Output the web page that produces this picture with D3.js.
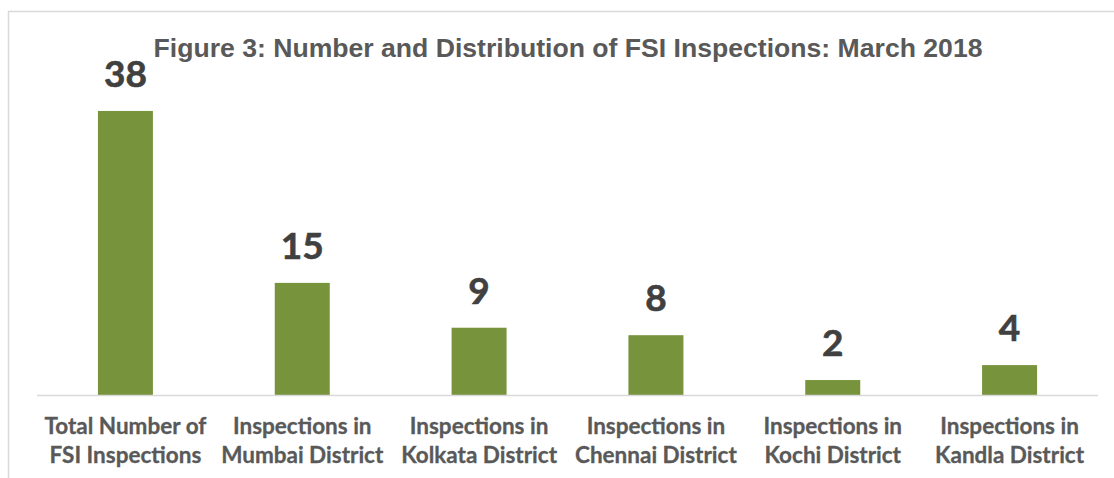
<!DOCTYPE html>
<html>
<head>
<meta charset="utf-8">
<script src="https://cdn.jsdelivr.net/npm/d3@7"></script>
<style>
  body { margin: 0; background: #fff; }
</style>
</head>
<body>
<div id="view"></div>
<script>
var width = 1114, height = 478;

// データ
var categories = [
  ["Total Number of", "FSI Inspections"],
  ["Inspections in", "Mumbai District"],
  ["Inspections in", "Kolkata District"],
  ["Inspections in", "Chennai District"],
  ["Inspections in", "Kochi District"],
  ["Inspections in", "Kandla District"]
];
var values = [38, 15, 9, 8, 2, 4];
var titleText = "Figure 3: Number and Distribution of FSI Inspections: March 2018";

var svg = d3.select("#view").append("svg")
  .attr("width", width)
  .attr("height", height);

// 枠線
svg.append("rect")
  .attr("x", 8.5).attr("y", 11.5)
  .attr("width", 1140).attr("height", 500)
  .style("fill", "none")
  .style("stroke", "#d9d9d9")
  .style("stroke-width", 1.5);

var x = d3.scaleBand()
  .domain(d3.range(values.length))
  .range([37, 1098])
  .paddingInner(0.689)
  .paddingOuter(0.3445);

var y = d3.scaleLinear()
  .domain([0, 40])
  .range([395, 96]);

// 棒
svg.selectAll(".bar")
  .data(values).enter()
  .append("rect")
  .attr("class", "bar")
  .attr("x", function(d, i) { return x(i); })
  .attr("y", function(d) { return y(d); })
  .attr("width", x.bandwidth())
  .attr("height", function(d) { return y(0) - y(d); })
  .style("fill", "#77933c");

// 軸線
svg.append("line")
  .attr("x1", x.range()[0]).attr("x2", x.range()[1])
  .attr("y1", y(0) + 0.5).attr("y2", y(0) + 0.5)
  .style("stroke", "#d9d9d9")
  .style("stroke-width", 1.5);

// 値ラベル
svg.selectAll(".val")
  .data(values).enter()
  .append("text")
  .attr("class", "val")
  .attr("x", function(d, i) { return x(i) + x.bandwidth() / 2; })
  .attr("y", function(d) { return y(d) - 24; })
  .attr("text-anchor", "middle")
  .style("font-family", "Lato, 'Open Sans', sans-serif")
  .style("font-weight", "bold")
  .style("font-size", "37px")
  .style("fill", "#404040")
  .style("stroke", "#404040")
  .style("stroke-width", 0.6)
  .text(function(d) { return d; });

// カテゴリラベル
var cat = svg.selectAll(".cat")
  .data(categories).enter()
  .append("text")
  .attr("class", "cat")
  .attr("text-anchor", "middle")
  .style("font-family", "Lato, 'Open Sans', sans-serif")
  .style("font-weight", "bold")
  .style("font-size", "22.5px")
  .style("fill", "#595959")
  .style("stroke", "#595959")
  .style("stroke-width", 0.3);
cat.selectAll("tspan")
  .data(function(d, i) { return d.map(function(s) { return { s: s, i: i }; }); })
  .enter().append("tspan")
  .attr("x", function(d) { return x(d.i) + x.bandwidth() / 2; })
  .attr("y", function(d, j) { return 434 + j * 29; })
  .text(function(d) { return d.s; });

// タイトル
svg.append("text")
  .attr("x", 568)
  .attr("y", 57)
  .attr("text-anchor", "middle")
  .style("font-family", "'Liberation Sans', Arial, sans-serif")
  .style("font-weight", "bold")
  .style("font-size", "26.6px")
  .style("fill", "#595959")
  .text(titleText);
</script>
</body>
</html>
